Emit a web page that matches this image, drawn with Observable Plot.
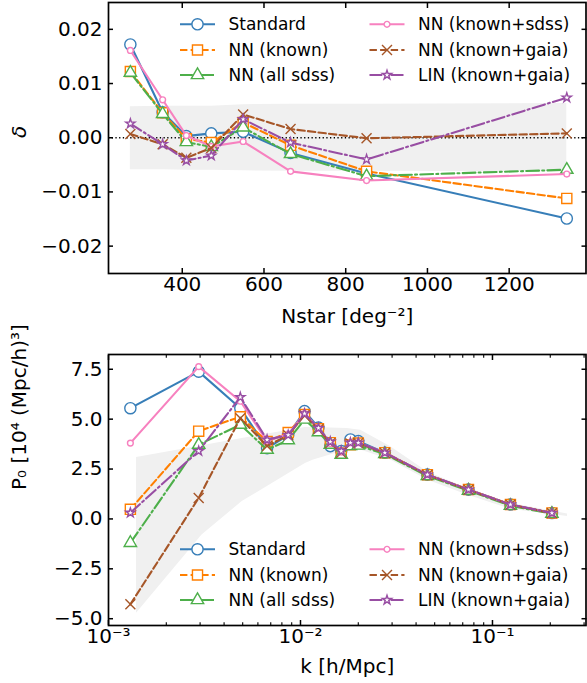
<!DOCTYPE html>
<html><head><meta charset="utf-8">
<script src="https://cdn.jsdelivr.net/npm/d3@7"></script>
<script src="https://cdn.jsdelivr.net/npm/@observablehq/plot@0.6"></script>
<style>
body{margin:0;background:#fff;}
#chart{width:587px;height:683px;}
#chart svg{display:block;}
</style></head><body><div id="chart"></div>
<script>
// ---------- data ----------
const seriesNames = ["Standard", "NN (known)", "NN (all sdss)", "NN (known+sdss)", "NN (known+gaia)", "LIN (known+gaia)"];

// top panel: delta vs Nstar
const nstar = [273, 352, 410, 471, 549, 665, 851, 1341];
const deltaStandard  = [0.0172, 0.0047, 0.0003, 0.0008, 0.0011, -0.0028, -0.0066, -0.0149];
const deltaKnown     = [0.0122, 0.0046, -0.0002, -0.0009, 0.0028, -0.0014, -0.0062, -0.0112];
const deltaAllSdss   = [0.0120, 0.0044, -0.0008, -0.0017, 0.0019, -0.0030, -0.0071, -0.0059];
const deltaKnownSdss = [0.0161, 0.0070, 0.0004, -0.0016, -0.0007, -0.0062, -0.0079, -0.0067];
const deltaKnownGaia = [0.0007, -0.0012, -0.0037, -0.0019, 0.0043, 0.0016, -0.0001, 0.0008];
const deltaLin       = [0.0026, -0.0012, -0.0042, -0.0033, 0.0034, -0.0009, -0.0040, 0.0074];
const deltaBandUpper = [0.0057, 0.0058, 0.0058, 0.0058, 0.0061, 0.0062, 0.0062, 0.0063];
const deltaBandLower = [-0.0059, -0.0059, -0.0060, -0.0060, -0.0061, -0.0062, -0.0062, -0.0063];
const nstarTicks = [400, 600, 800, 1000, 1200];
const deltaTicks = [-0.02, -0.01, 0, 0.01, 0.02];

// bottom panel: P0 vs k
const kValues = [0.0013, 0.00295, 0.00486, 0.0067, 0.00863, 0.0105, 0.0124, 0.0143, 0.0163, 0.0182, 0.0200, 0.0275, 0.0458, 0.0750, 0.124, 0.204];
const p0Standard  = [5.55, 7.38, 5.55, 3.55, 4.2, 5.4, 4.58, 3.65, 3.4, 3.98, 3.9, 3.32, 2.22, 1.47, 0.72, 0.3];
const p0Known     = [0.48, 4.4, 5.12, 3.88, 4.33, 5.23, 4.52, 3.82, 3.3, 3.72, 3.8, 3.32, 2.22, 1.47, 0.72, 0.3];
const p0AllSdss   = [-1.2, 3.72, 4.72, 3.47, 3.95, 4.98, 4.35, 3.72, 3.22, 3.65, 3.68, 3.25, 2.15, 1.42, 0.66, 0.26];
const p0KnownSdss = [3.8, 7.63, 5.9, 3.9, 4.25, 5.28, 4.55, 3.78, 3.35, 3.82, 3.82, 3.32, 2.22, 1.47, 0.72, 0.3];
const p0KnownGaia = [-4.28, 1.05, 5.05, 3.65, 4.2, 5.2, 4.5, 3.8, 3.32, 3.78, 3.8, 3.3, 2.2, 1.46, 0.71, 0.29];
const p0Lin       = [0.31, 3.4, 6.1, 3.97, 4.2, 5.28, 4.55, 3.87, 3.4, 3.82, 3.82, 3.32, 2.22, 1.47, 0.72, 0.3];
const kBand      = [0.0014, 0.00307, 0.00497, 0.0106, 0.0117, 0.0175, 0.0206, 0.0295, 0.0458, 0.0741, 0.1245, 0.246];
const p0BandUpper = [3.08, 3.67, 4.03, 4.58, 4.58, 4.53, 4.45, 3.62, 2.37, 1.53, 0.78, 0.25];
const p0BandLower = [-4.72, -0.8, 0.87, 2.78, 2.95, 3.45, 3.45, 2.95, 1.95, 1.2, 0.48, 0.12];
const kMajorTicks = [1e-3, 1e-2, 1e-1];
const kTickLabels = ["10⁻³", "10⁻²", "10⁻¹"];
const p0Ticks = [-5, -2.5, 0, 2.5, 5, 7.5];

// ---------- styles ----------
const styles = [
  {color: "#377eb8", dash: null, symbol: "circle", sym: d3.symbolCircle, r: 5.6},
  {color: "#ff7f00", dash: "7.4,3.2", symbol: "square", sym: d3.symbolSquare, r: 5.7},
  {color: "#4daf4a", dash: "12.8,3.2,2,3.2", symbol: "triangle", sym: d3.symbolTriangle, r: 4.6},
  {color: "#f781bf", dash: null, symbol: "circle", sym: d3.symbolCircle, r: 2.9},
  {color: "#a65628", dash: "7.4,3.2", symbol: "times", sym: d3.symbolTimes, r: 4.6},
  {color: "#984ea3", dash: "12.8,3.2,2,3.2", symbol: "star", sym: d3.symbolStar, r: 2.9}
];

const FONT = "DejaVu Sans";
const W = 587, ML = 108, MR = 1.5;

function seriesMarks(xs, ysList) {
  const marks = [];
  styles.forEach((s, i) => {
    const data = xs.map((x, j) => ({x, y: ysList[i][j]}));
    const lo = {x: "x", y: "y", stroke: s.color, strokeWidth: 2.1};
    if (s.dash) lo.strokeDasharray = s.dash;
    marks.push(Plot.line(data, lo));
    marks.push(Plot.dot(data, {x: "x", y: "y", r: s.r, symbol: s.symbol, stroke: s.color, fill: "white", strokeWidth: 1.4}));
  });
  return marks;
}

function addLegend(svg, rowsY) {
  const g = d3.select(svg).append("g").attr("font-family", FONT).attr("font-size", 17)
    .attr("fill", "black").attr("text-anchor", "start");
  styles.forEach((s, i) => {
    const col = Math.floor(i / 3), row = i % 3;
    const x0 = col === 0 ? 180 : 369.5;
    const y = rowsY[row];
    const ln = g.append("line").attr("x1", x0).attr("x2", x0 + 35).attr("y1", y).attr("y2", y)
      .attr("stroke", s.color).attr("stroke-width", 2.1);
    if (s.dash) ln.attr("stroke-dasharray", s.dash);
    g.append("path").attr("d", d3.symbol(s.sym, Math.PI * s.r * s.r)())
      .attr("transform", `translate(${x0 + 17.5},${y})`)
      .attr("stroke", s.color).attr("stroke-width", 1.4).attr("fill", s.symbol === "times" ? "none" : "white");
    g.append("text").attr("x", x0 + 48.5).attr("y", y).attr("dy", "0.35em")
      .attr("text-anchor", "start").text(seriesNames[i]);
  });
}

const styleObj = {fontFamily: FONT, fontSize: "20px", background: "white", color: "black", overflow: "visible"};

// ---------- top panel ----------
const topBand = nstar.map((x, j) => ({x, lo: deltaBandLower[j], hi: deltaBandUpper[j]}));
const topChart = Plot.plot({
  width: W, height: 340,
  marginLeft: ML, marginRight: MR, marginTop: 2, marginBottom: 67,
  style: styleObj,
  x: {domain: [219.5, 1388]},
  y: {domain: [-0.02505, 0.02495]},
  marks: [
    Plot.areaY(topBand, {x: "x", y1: "lo", y2: "hi", fill: "#f0f0f0"}),
    Plot.ruleY([0], {stroke: "black", strokeWidth: 1.3, strokeDasharray: "1.3,2.4"}),
    ...seriesMarks(nstar, [deltaStandard, deltaKnown, deltaAllSdss, deltaKnownSdss, deltaKnownGaia, deltaLin]),
    Plot.frame({stroke: "black", strokeWidth: 1.7}),
    Plot.axisX({anchor: "bottom", ticks: nstarTicks, tickSize: -5, tickPadding: 8, tickFormat: d => String(d), label: null, strokeWidth: 1.5, fontSize: 20}),
    Plot.axisX({anchor: "top", ticks: nstarTicks, tickSize: -5, tickFormat: () => "", label: null, strokeWidth: 1.5}),
    Plot.axisY({anchor: "left", ticks: deltaTicks, tickSize: -5, tickPadding: 11, tickFormat: d3.format(".2f"), label: null, strokeWidth: 1.5, fontSize: 20}),
    Plot.axisY({anchor: "right", ticks: deltaTicks, tickSize: -5, tickFormat: () => "", label: null, strokeWidth: 1.5}),
    Plot.text(["Nstar [deg⁻²]"], {text: d => d, frameAnchor: "bottom", dy: 43, lineAnchor: "middle", fontSize: 20}),
    Plot.text(["δ"], {text: d => d, frameAnchor: "left", dx: -89, rotate: -90, fontSize: 20, fontStyle: "italic"})
  ]
});
addLegend(topChart, [24.3, 50, 75]);

// ---------- bottom panel ----------
const kMinorTicks = [];
kMajorTicks.forEach(d => { for (let m = 2; m <= 9; m++) { const v = d * m; if (v <= 0.307) kMinorTicks.push(v); } });
const botBand = kBand.map((x, j) => ({x, lo: p0BandLower[j], hi: p0BandUpper[j]}));
const bottomChart = Plot.plot({
  width: W, height: 343,
  marginLeft: ML, marginRight: MR, marginTop: 14, marginBottom: 58,
  style: styleObj,
  x: {type: "log", domain: [1e-3, 0.307]},
  y: {domain: [-5.34, 8.24]},
  marks: [
    Plot.areaY(botBand, {x: "x", y1: "lo", y2: "hi", fill: "#f0f0f0"}),
    ...seriesMarks(kValues, [p0Standard, p0Known, p0AllSdss, p0KnownSdss, p0KnownGaia, p0Lin]),
    Plot.frame({stroke: "black", strokeWidth: 1.7}),
    Plot.axisX({anchor: "bottom", ticks: kMajorTicks, tickSize: -5, tickPadding: 8, tickFormat: d => kTickLabels[kMajorTicks.indexOf(d)], label: null, strokeWidth: 1.5, fontSize: 20}),
    Plot.axisX({anchor: "bottom", ticks: kMinorTicks, tickSize: -2.7, tickFormat: () => "", label: null, strokeWidth: 1.1}),
    Plot.axisX({anchor: "top", ticks: kMajorTicks, tickSize: -5, tickFormat: () => "", label: null, strokeWidth: 1.5}),
    Plot.axisX({anchor: "top", ticks: kMinorTicks, tickSize: -2.7, tickFormat: () => "", label: null, strokeWidth: 1.1}),
    Plot.axisY({anchor: "left", ticks: p0Ticks, tickSize: -5, tickPadding: 11, tickFormat: d3.format(".1f"), label: null, strokeWidth: 1.5, fontSize: 20}),
    Plot.axisY({anchor: "right", ticks: p0Ticks, tickSize: -5, tickFormat: () => "", label: null, strokeWidth: 1.5}),
    Plot.text(["k [h/Mpc]"], {text: d => d, frameAnchor: "bottom", dy: 41, lineAnchor: "middle", fontSize: 20}),
    Plot.text(["P₀ [10⁴ (Mpc/h)³]"], {text: d => d, frameAnchor: "left", dx: -89, rotate: -90, fontSize: 20})
  ]
});
addLegend(bottomChart, [209.3, 235, 260]);

const chart = document.getElementById("chart");
chart.appendChild(topChart);
chart.appendChild(bottomChart);
</script></body></html>
